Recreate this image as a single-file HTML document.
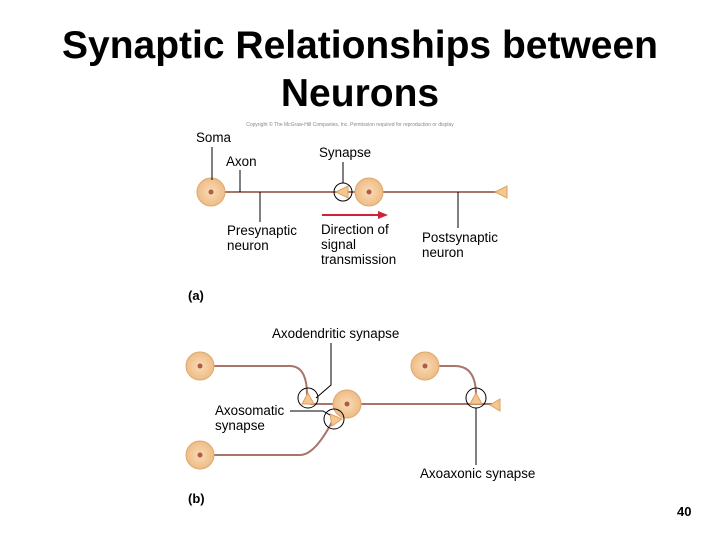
<!DOCTYPE html>
<html><head><style>
body{margin:0;width:720px;height:540px;background:#fff;overflow:hidden}
svg{display:block}
text{font-family:"Liberation Sans",sans-serif}
</style></head><body>
<svg width="720" height="540" viewBox="0 0 720 540">
<defs>
<radialGradient id="g"><stop offset="0" stop-color="#f9dcb6"/><stop offset="1" stop-color="#eebc86"/></radialGradient>
</defs>
<text x="360" y="58" font-size="39" font-weight="bold" text-anchor="middle">Synaptic Relationships between</text>
<text x="360" y="106" font-size="39" font-weight="bold" text-anchor="middle">Neurons</text>
<text x="350" y="126" font-size="5" fill="#888" text-anchor="middle">Copyright © The McGraw-Hill Companies, Inc. Permission required for reproduction or display</text>
<g stroke="#a8756a" stroke-width="2" fill="none">
<line x1="211" y1="192" x2="500" y2="192"/>
<line x1="310" y1="404" x2="495" y2="404"/>
<path d="M213 366 H290 Q307 366 307 395"/>
<path d="M213 455 H300 Q315 455 333 420"/>
<path d="M438 366 H455 Q476 366 476 395"/>
</g>
<g fill="url(#g)" stroke="#e0a870" stroke-width="1">
<circle cx="211" cy="192" r="14"/><circle cx="369" cy="192" r="14"/>
<circle cx="200" cy="366" r="14"/><circle cx="200" cy="455" r="14"/>
<circle cx="425" cy="366" r="14"/><circle cx="347" cy="404" r="14"/>
</g>
<g fill="#b05a48">
<circle cx="211" cy="192" r="2.5"/><circle cx="369" cy="192" r="2.5"/>
<circle cx="200" cy="366" r="2.5"/><circle cx="200" cy="455" r="2.5"/>
<circle cx="425" cy="366" r="2.5"/><circle cx="347" cy="404" r="2.5"/>
</g>
<g fill="#f3c890" stroke="#e0a060" stroke-width="1">
<polygon points="336,192 348,186 348,198"/>
<polygon points="495,192 507,186 507,198"/>
<polygon points="308,393 302,404 314,404"/>
<polygon points="476,393 470,404 482,404"/>
<polygon points="330,414 342,419 332,426"/>
<polygon points="490,405 500,399 500,411"/>
</g>
<g fill="none" stroke="#000" stroke-width="1">
<circle cx="343" cy="192" r="9"/>
<circle cx="308" cy="398" r="10"/>
<circle cx="334" cy="419" r="10"/>
<circle cx="476" cy="398" r="10"/>
<line x1="212" y1="147" x2="212" y2="180"/>
<line x1="240" y1="170" x2="240" y2="192"/>
<line x1="260" y1="192" x2="260" y2="222"/>
<line x1="343" y1="162" x2="343" y2="183"/>
<line x1="458" y1="192" x2="458" y2="228"/>
<polyline points="331,343 331,385 316,398"/>
<polyline points="290,411 323,411 330,415"/>
<line x1="476" y1="408" x2="476" y2="465"/>
</g>
<line x1="322" y1="215" x2="380" y2="215" stroke="#d0203a" stroke-width="2"/>
<polygon points="378,211 388,215 378,219" fill="#d0203a"/>
<g font-size="13.4">
<text x="196" y="142">Soma</text>
<text x="226" y="166">Axon</text>
<text x="319" y="157">Synapse</text>
<text x="227" y="235">Presynaptic</text><text x="227" y="250">neuron</text>
<text x="321" y="234">Direction of</text><text x="321" y="249">signal</text><text x="321" y="264">transmission</text>
<text x="422" y="242">Postsynaptic</text><text x="422" y="257">neuron</text>
<text x="188" y="300" font-size="13" font-weight="bold">(a)</text>
<text x="272" y="338">Axodendritic synapse</text>
<text x="215" y="415">Axosomatic</text><text x="215" y="430">synapse</text>
<text x="420" y="478">Axoaxonic synapse</text>
<text x="188" y="503" font-size="13" font-weight="bold">(b)</text>
<text x="677" y="516" font-size="13" font-weight="bold">40</text>
</g>
</svg>
</body></html>
